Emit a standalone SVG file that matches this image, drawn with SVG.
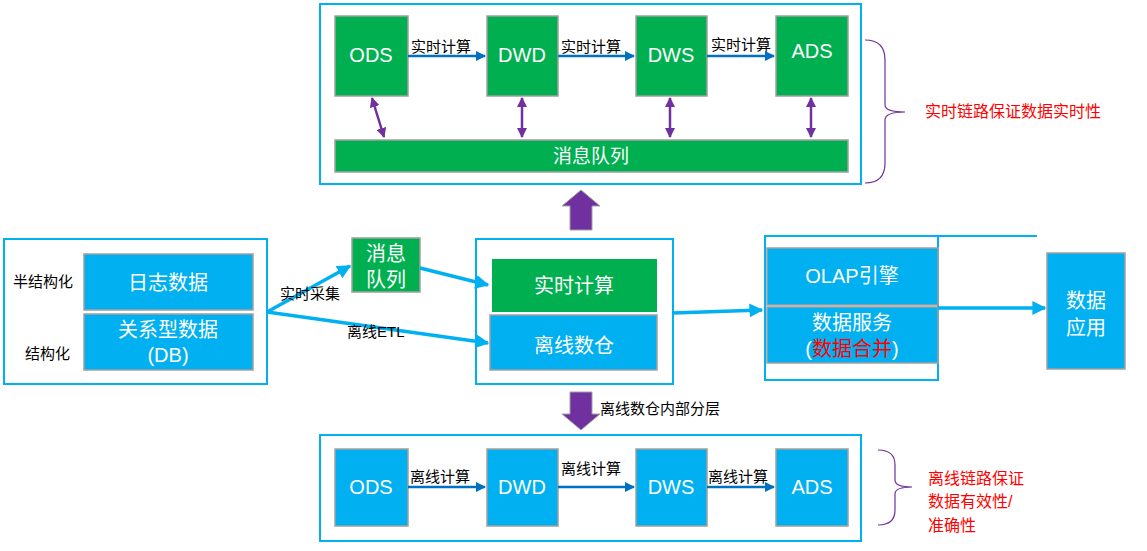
<svg xmlns="http://www.w3.org/2000/svg" width="1147" height="551" viewBox="0 0 1147 551">
<style>
text{font-family:"Liberation Sans","Noto Sans CJK SC",sans-serif}
.frame{fill:#fff;stroke:#00B0F0;stroke-width:2}
.g{fill:#00B050;stroke:#A0A0A0;stroke-width:1.5}
.b{fill:#00B0F0;stroke:#A0A0A0;stroke-width:1.5}
.wt{fill:#fff;font-size:20px;text-anchor:middle}
.sm{font-size:15px;fill:#000}
.red{fill:#FF0000;font-size:16px}
.ln{stroke:#0070C0;stroke-width:2.5;fill:none}
.cy{stroke:#00B0F0;stroke-width:3.5;fill:none}
.pu{stroke:#7030A0;stroke-width:2.5;fill:none}
</style>
<defs>
<marker id="a" viewBox="0 0 10 10" refX="9" refY="5" markerWidth="4" markerHeight="4" orient="auto"><path d="M0,0L10,5L0,10z" fill="#0070C0"/></marker>
<marker id="c" viewBox="0 0 10 10" refX="9" refY="5" markerWidth="4" markerHeight="4" orient="auto"><path d="M0,0L10,5L0,10z" fill="#00B0F0"/></marker>
<marker id="p" viewBox="0 0 10 10" refX="9" refY="5" markerWidth="4" markerHeight="4" orient="auto-start-reverse"><path d="M0,0L10,5L0,10z" fill="#7030A0"/></marker>
</defs>
<g id="rt-frame"><rect class="frame" x="320" y="4" width="541" height="180"/></g>
<g id="rt-ods"><rect class="g" x="335" y="16" width="73" height="80"/><text class="wt" x="371" y="62">ODS</text></g>
<g id="rt-dwd"><rect class="g" x="487" y="16" width="71" height="80"/><text class="wt" x="522" y="62">DWD</text></g>
<g id="rt-dws"><rect class="g" x="636" y="16" width="71" height="80"/><text class="wt" x="671" y="62">DWS</text></g>
<g id="rt-ads"><rect class="g" x="776" y="16" width="72" height="80"/><text class="wt" x="812" y="58">ADS</text></g>
<g id="mq-bar"><rect class="g" x="335" y="140" width="513" height="32"/><text class="wt" x="591" y="163" style="font-size:19px">消息队列</text></g>
<g id="rt-brace"><path d="M865,40 Q885,40 885,60 L885,105 Q885,112 905,112 Q885,112 885,120 L885,163 Q885,183 865,183" fill="none" stroke="#7030A0" stroke-width="1.2"/><text class="red" x="925" y="117">实时链路保证数据实时性</text></g>
<g id="left-frame"><rect class="frame" x="4" y="239" width="263" height="145"/>
<text class="sm" x="13" y="287">半结构化</text><text class="sm" x="25" y="359">结构化</text></g>
<g id="log"><rect class="b" x="84" y="254" width="169" height="56"/><text class="wt" x="168" y="290">日志数据</text></g>
<g id="db"><rect class="b" x="84" y="314" width="169" height="56"/><text class="wt" x="168" y="337">关系型数据</text><text class="wt" x="168" y="362">(DB)</text></g>
<g id="mq-small"><rect class="g" x="352" y="238" width="68" height="54"/><text class="wt" x="386" y="261">消息</text><text class="wt" x="386" y="287">队列</text></g>
<g id="mid-frame"><rect class="frame" x="476" y="239" width="197" height="145"/></g>
<g id="rtc"><rect fill="#00B050" x="492" y="259" width="165" height="53"/><text class="wt" x="574" y="293">实时计算</text></g>
<g id="offline"><rect class="b" x="490" y="315" width="167" height="55"/><text class="wt" x="574" y="353">离线数仓</text></g>
<g id="olap-frame"><rect class="frame" x="765" y="236" width="173" height="144"/><line x1="938" y1="236" x2="1037" y2="236" stroke="#00B0F0" stroke-width="2"/></g>
<g id="olap"><rect class="b" x="767" y="248" width="171" height="57"/><text class="wt" x="852" y="283">OLAP引擎</text></g>
<g id="svc"><rect class="b" x="767" y="307" width="171" height="56"/><text class="wt" x="852" y="330">数据服务</text><text class="wt" x="852" y="356">(<tspan fill="#FF0000">数据合并</tspan>)</text></g>
<g id="app"><rect class="b" x="1047" y="253" width="78" height="116"/><text class="wt" x="1086" y="308">数据</text><text class="wt" x="1086" y="335">应用</text></g>
<g id="bt-frame"><rect class="frame" x="320" y="435" width="541" height="106"/></g>
<g id="bt-ods"><rect class="b" x="335" y="449" width="73" height="77"/><text class="wt" x="371" y="494">ODS</text></g>
<g id="bt-dwd"><rect class="b" x="487" y="449" width="71" height="77"/><text class="wt" x="522" y="494">DWD</text></g>
<g id="bt-dws"><rect class="b" x="636" y="449" width="71" height="77"/><text class="wt" x="671" y="494">DWS</text></g>
<g id="bt-ads"><rect class="b" x="776" y="449" width="72" height="77"/><text class="wt" x="812" y="494">ADS</text></g>
<g id="bt-brace"><path d="M878,450 Q895,450 895,465 L895,480 Q895,487 912,487 Q895,487 895,494 L895,510 Q895,525 878,525" fill="none" stroke="#7030A0" stroke-width="1.2"/>
<text class="red" x="928" y="484">离线链路保证</text><text class="red" x="928" y="507">数据有效性/</text><text class="red" x="928" y="531">准确性</text></g>
<g id="connectors">
<line class="ln" x1="408" y1="56" x2="485" y2="56" marker-end="url(#a)"/>
<line class="ln" x1="558" y1="56" x2="634" y2="56" marker-end="url(#a)"/>
<line class="ln" x1="707" y1="56" x2="774" y2="56" marker-end="url(#a)"/>
<text class="sm" x="411" y="52">实时计算</text><text class="sm" x="561" y="52">实时计算</text><text class="sm" x="711" y="50">实时计算</text>
<line class="pu" x1="372" y1="98" x2="384" y2="137" marker-start="url(#p)" marker-end="url(#p)"/>
<line class="pu" x1="522" y1="98" x2="522" y2="137" marker-start="url(#p)" marker-end="url(#p)"/>
<line class="pu" x1="670" y1="98" x2="670" y2="137" marker-start="url(#p)" marker-end="url(#p)"/>
<line class="pu" x1="811" y1="98" x2="811" y2="137" marker-start="url(#p)" marker-end="url(#p)"/>
<path d="M570,230 L592,230 L592,206 L600,206 L581,190 L562,206 L570,206 Z" fill="#7030A0" stroke="#A0A0A0"/>
<path d="M570,392 L592,392 L592,414 L600,414 L581,430 L562,414 L570,414 Z" fill="#7030A0" stroke="#A0A0A0"/>
<text class="sm" x="600" y="414">离线数仓内部分层</text>
<line class="cy" x1="267" y1="312" x2="350" y2="266" marker-end="url(#c)"/>
<line class="cy" x1="267" y1="312" x2="488" y2="343" marker-end="url(#c)"/>
<line class="cy" x1="420" y1="268" x2="488" y2="285" marker-end="url(#c)"/>
<text class="sm" x="280" y="299">实时采集</text><text class="sm" x="347" y="337">离线ETL</text>
<line class="cy" x1="673" y1="313" x2="762" y2="310" marker-end="url(#c)"/>
<line class="cy" x1="938" y1="308" x2="1045" y2="308" marker-end="url(#c)"/>
<line class="ln" x1="408" y1="487" x2="485" y2="487" marker-end="url(#a)"/>
<line class="ln" x1="558" y1="487" x2="634" y2="487" marker-end="url(#a)"/>
<line class="ln" x1="707" y1="487" x2="774" y2="487" marker-end="url(#a)"/>
<text class="sm" x="410" y="482">离线计算</text><text class="sm" x="561" y="474">离线计算</text><text class="sm" x="708" y="482">离线计算</text>
</g>
</svg>
